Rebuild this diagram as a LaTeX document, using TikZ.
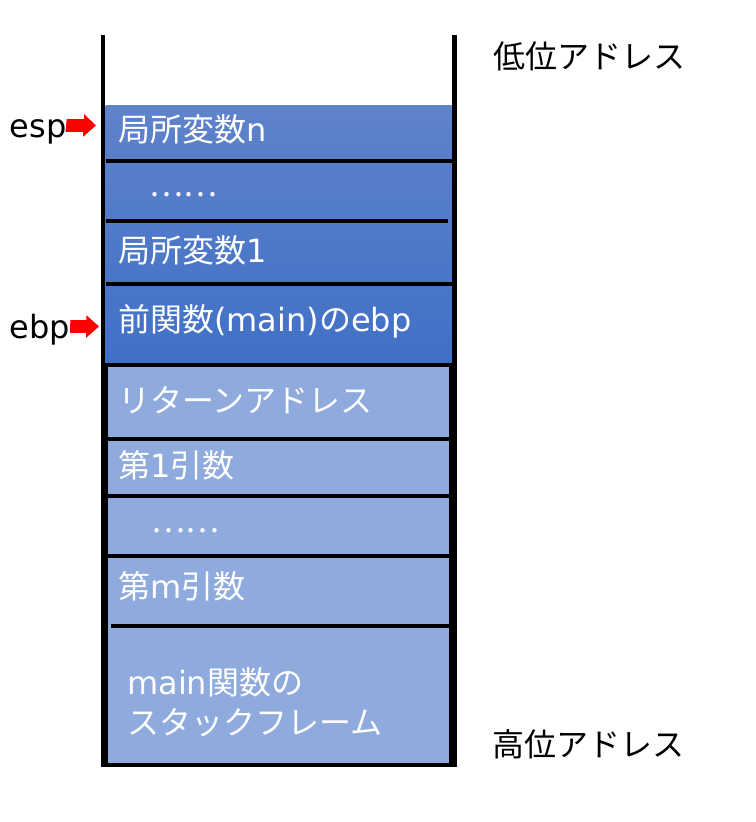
\documentclass[tikz,border=0pt]{standalone}
\usepackage{fontspec}
\setmainfont{DejaVu Sans}
\newfontfamily\jp{Noto Sans CJK JP}
\usepackage{tikz}
\definecolor{frametop}{RGB}{95,131,203}
\definecolor{framebot}{RGB}{64,112,198}
\definecolor{argfill}{RGB}{143,170,220}

\begin{document}
\begin{tikzpicture}[x=0.75pt,y=0.75pt,yscale=-1,xscale=1,
  wall/.style={line width=3.4pt},
  sep/.style={line width=3pt},
  slot/.style={draw=black,fill=argfill,line width=3pt},
  txt/.style={anchor=base west,inner sep=0pt,font=\fontsize{24}{30}\selectfont},
  intxt/.style={txt,text=white,align=left},
  ptr/.style={fill={rgb, 255:red, 255; green, 0; blue, 0 }}]
\useasboundingbox (0,0) rectangle (756,822);

%Shape: Rectangle [current frame]
\shade [top color=frametop,bottom color=framebot] (105.7,105) rectangle (451.7,364) ;
%Straight Lines [current frame]
\draw [sep] (105.7,161) -- (451.7,161) ;
\draw [sep] (105.7,221) -- (447.7,221) ;
\draw [sep] (105.7,284) -- (451.7,284) ;

%Shape: Rectangle [args]
\draw [slot] (105.7,365) rectangle (451.3,438.7) ;
\draw [slot] (105.7,438.7) rectangle (451.3,495.7) ;
\draw [slot] (105.7,495.7) rectangle (451.3,555.8) ;
\draw [slot] (105.7,555.8) rectangle (451.3,764.5) ;
%Straight Lines [main frame]
\draw [sep] (111,626) -- (451.3,626) ;

%Straight Lines [walls]
\draw [wall] (103,35) -- (103,766.7) ;
\draw [wall] (454.3,35) -- (454.3,766.7) ;

% Text Node
\draw (118,141) node [intxt] (localn) {{\jp 局所変数}n};
% Text Node
\draw (149,196) node [intxt] (localdots) {{\jp ……}};
% Text Node
\draw (118,262) node [intxt] (local1) {{\jp 局所変数}1};
% Text Node
\draw (118,331) node [intxt] (oldebp) {{\jp 前関数}(main){\jp の}ebp};
% Text Node
\draw (118,412) node [intxt] (retaddr) {{\jp リターンアドレス}};
% Text Node
\draw (118,477) node [intxt] (arg1) {{\jp 第}1{\jp 引数}};
% Text Node
\draw (151,532) node [intxt] (argdots) {{\jp ……}};
% Text Node
\draw (118,598) node [intxt] (argm) {{\jp 第}m{\jp 引数}};
% Text Node
\draw (127,734) node [intxt] (mainframe) {main{\jp 関数の}\\{\jp スタックフレーム}};

% Text Node
\draw (493,68) node [txt] (low) {{\jp 低位アドレス}};
% Text Node
\draw (492,756) node [txt] (high) {{\jp 高位アドレス}};
% Text Node
\draw (9.5,137) node [txt] (esp) {esp};
% Text Node
\draw (9.5,338) node [txt] (ebp) {ebp};

%Shape: Right Arrow [pointers]
\coordinate (espTip) at (96,125.5) ;
\coordinate (ebpTip) at (99,326.5) ;
\fill [ptr] (esp.east |- espTip) ++(0,-6.3) -- ++(17.5,0) -- ++(0,-5) -- (espTip) -- ++(-13,11.3) -- ++(0,-5) -- ++(-17.5,0) -- cycle ;
\fill [ptr] (ebp.east |- ebpTip) ++(0,-6.3) -- ++(16,0) -- ++(0,-5) -- (ebpTip) -- ++(-13,11.3) -- ++(0,-5) -- ++(-16,0) -- cycle ;

\end{tikzpicture}
\end{document}
